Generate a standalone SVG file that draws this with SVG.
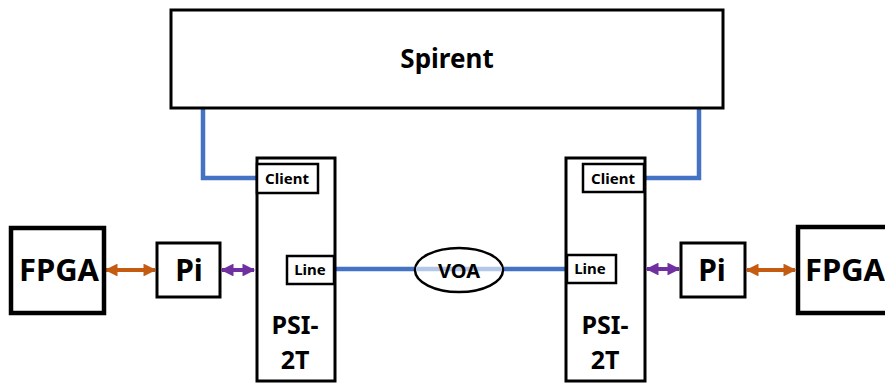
<svg xmlns="http://www.w3.org/2000/svg" width="885" height="383" viewBox="0 0 885 383">
<style>
.box{fill:#fff;stroke:#000;stroke-width:3}
.thick{fill:#fff;stroke:#000;stroke-width:4.5}
.port{fill:#fff;stroke:#000;stroke-width:2.5}
.t{font-family:"Noto Sans","Open Sans",sans-serif;font-weight:bold;fill:#000;text-anchor:middle}
.blue{fill:none;stroke:#4472C4;stroke-width:4.5}
.org{stroke:#C55A11;stroke-width:4;fill:none}
.pur{stroke:#7030A0;stroke-width:4;fill:none}
</style>
<defs>
<marker id="ao" viewBox="0 0 10 10" refX="9" refY="5" markerWidth="3.6" markerHeight="3.2" orient="auto-start-reverse" markerUnits="strokeWidth"><path d="M0,0L10,5L0,10z" fill="#C55A11"/></marker>
<marker id="ap" viewBox="0 0 10 10" refX="9" refY="5" markerWidth="3.4" markerHeight="3.2" orient="auto-start-reverse" markerUnits="strokeWidth"><path d="M0,0L10,5L0,10z" fill="#7030A0"/></marker>
</defs>
<g id="connectors">
<path class="blue" d="M203,108V178H257"/>
<path class="blue" d="M699,108V178H645"/>
<path class="blue" d="M335,269H415"/>
<path class="blue" d="M503,269H566"/>
<path class="org" d="M106,270H155" marker-start="url(#ao)" marker-end="url(#ao)"/>
<path class="pur" d="M222,270H254" marker-start="url(#ap)" marker-end="url(#ap)"/>
<path class="pur" d="M647,269H679" marker-start="url(#ap)" marker-end="url(#ap)"/>
<path class="org" d="M747,270H795" marker-start="url(#ao)" marker-end="url(#ao)"/>
</g>
<g id="spirent">
<rect class="box" x="171" y="10" width="552" height="98"/>
<text class="t" x="447" y="68" font-size="26">Spirent</text>
</g>
<g id="fpga-left">
<rect class="thick" x="11" y="228" width="93" height="85"/>
<text class="t" x="59" y="281" font-size="31">FPGA</text>
</g>
<g id="pi-left">
<rect class="box" x="157" y="243" width="63" height="54"/>
<text class="t" x="189" y="281" font-size="30">Pi</text>
</g>
<g id="psi-left">
<rect class="box" x="257" y="158" width="78" height="223"/>
<text class="t" x="295" y="334" font-size="25">PSI-</text>
<text class="t" x="295" y="369" font-size="25">2T</text>
</g>
<g id="client-left">
<rect class="port" x="257" y="164" width="61" height="29"/>
<text class="t" x="287" y="184" font-size="15">Client</text>
</g>
<g id="line-left">
<rect class="port" x="287" y="256" width="47" height="28"/>
<text class="t" x="310" y="275" font-size="15">Line</text>
</g>
<g id="voa">
<ellipse cx="459" cy="270" rx="44" ry="22" fill="#fff" stroke="#000" stroke-width="2.5"/>
<line x1="416" y1="269" x2="502" y2="269" stroke="#B4C7E7" stroke-width="4.5"/>
<text class="t" x="459" y="278" font-size="20">VOA</text>
</g>
<g id="psi-right">
<rect class="box" x="566" y="158" width="79" height="223"/>
<text class="t" x="605" y="334" font-size="25">PSI-</text>
<text class="t" x="605" y="369" font-size="25">2T</text>
</g>
<g id="client-right">
<rect class="port" x="583" y="164" width="61" height="28"/>
<text class="t" x="613" y="184" font-size="15">Client</text>
</g>
<g id="line-right">
<rect class="port" x="567" y="255" width="49" height="28"/>
<text class="t" x="590" y="274" font-size="15">Line</text>
</g>
<g id="pi-right">
<rect class="box" x="681" y="243" width="64" height="54"/>
<text class="t" x="712" y="281" font-size="30">Pi</text>
</g>
<g id="fpga-right">
<rect class="thick" x="798" y="227" width="93" height="86"/>
<text class="t" x="845" y="281" font-size="31">FPGA</text>
</g>
</svg>
